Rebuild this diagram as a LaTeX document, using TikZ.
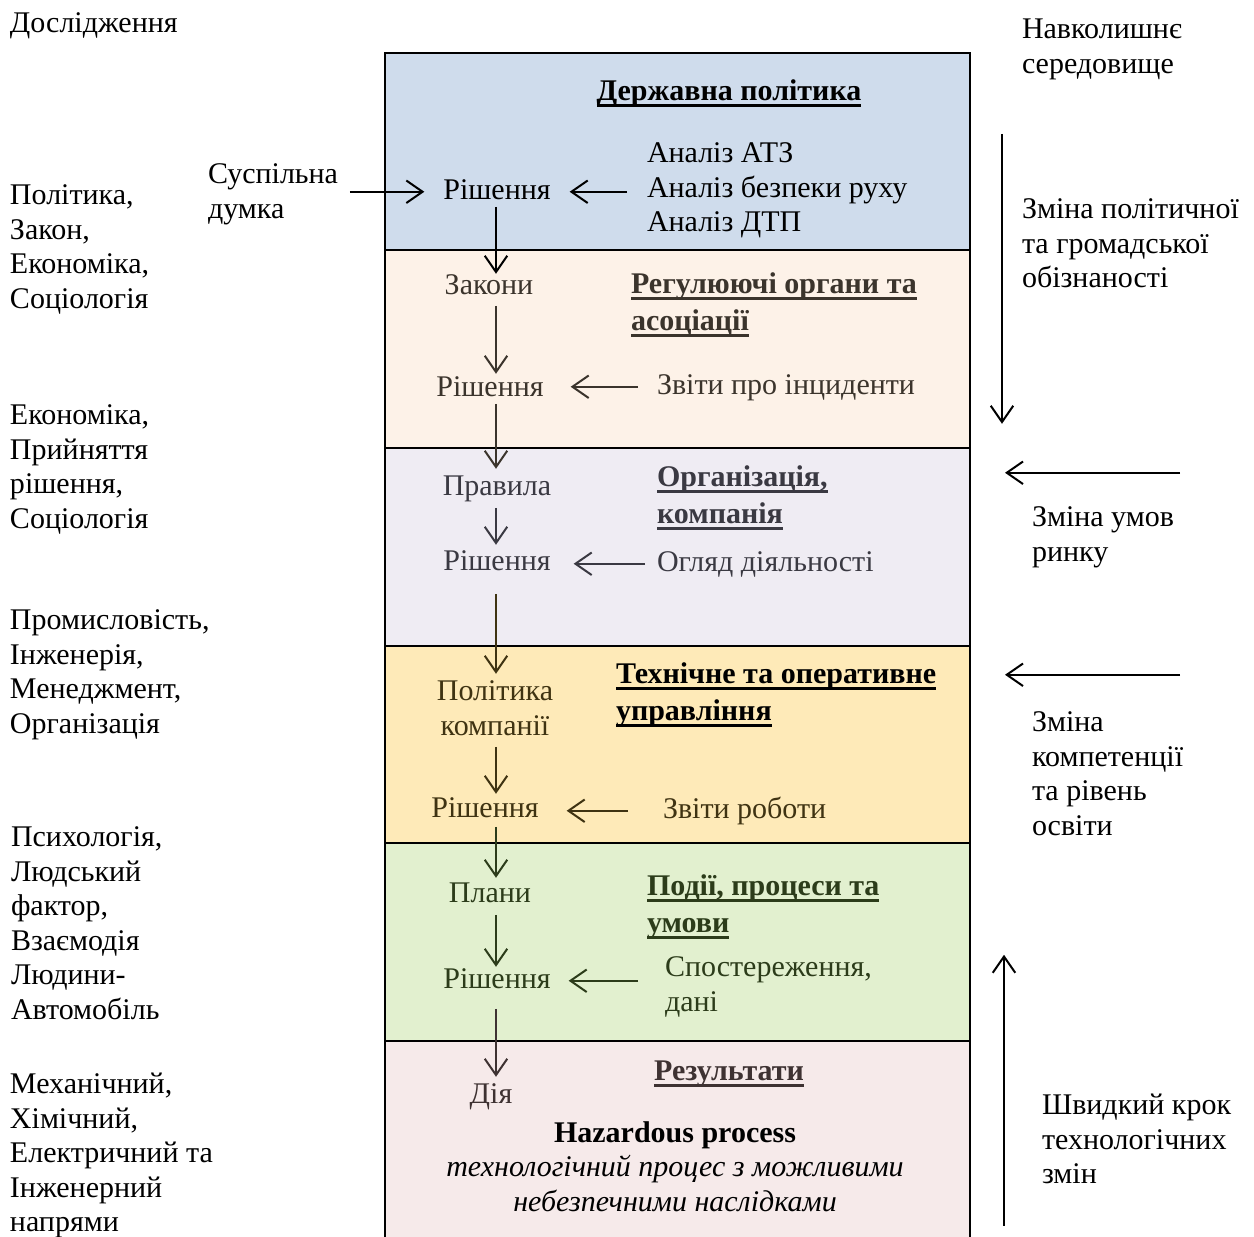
\documentclass[tikz,border=0pt]{standalone}
\usepackage{fontspec}
\setmainfont{Liberation Serif}
\usetikzlibrary{arrows.meta,calc}

% band fills
\definecolor{bandA}{HTML}{CFDCEC}
\definecolor{bandB}{HTML}{FDF2E8}
\definecolor{bandC}{HTML}{EFECF3}
\definecolor{bandD}{HTML}{FEEAB8}
\definecolor{bandE}{HTML}{E2F0CF}
\definecolor{bandF}{HTML}{F6EAEA}
% band inks
\definecolor{inkB}{HTML}{3B342C}
\definecolor{inkC}{HTML}{3A3942}
\definecolor{inkD}{HTML}{3F3312}
\definecolor{inkE}{HTML}{2C3C1A}
\definecolor{inkF}{HTML}{3E3232}

% bold heading with a fixed-depth underline
\newsavebox\ulbox
\newcommand\ultitle[1]{\sbox\ulbox{\bfseries #1}\rlap{\rule[-2.4pt]{\wd\ulbox}{0.95pt}}\usebox\ulbox}
% stacked lines, first baseline on top
\newcommand\stackl[1]{\begin{tabular}[t]{@{}l@{}}#1\end{tabular}}
\newcommand\stackc[1]{\begin{tabular}[t]{@{}c@{}}#1\end{tabular}}

\begin{document}
\begin{tikzpicture}[x=0.4pt,y=-0.4pt,
  every node/.style={inner sep=0pt,outer sep=0pt,yshift=-0.7pt,font=\fontsize{12}{13.8}\selectfont},
  lbl/.style={anchor=base west},
  ctr/.style={anchor=base},
  arr/.style={line width=0.8pt,-{Straight Barb[length=6.5pt,width=9pt]}},
  frame/.style={line width=1pt}]
\useasboundingbox (0,0) rectangle (1254,1236);

% coloured bands of the hierarchy
\fill[bandA] (385,53) rectangle (970,250);
\fill[bandB] (385,250) rectangle (970,448);
\fill[bandC] (385,448) rectangle (970,646);
\fill[bandD] (385,646) rectangle (970,843);
\fill[bandE] (385,843) rectangle (970,1041);
\fill[bandF] (385,1041) rectangle (970,1270);
\draw[frame] (970,1270) -- (970,53) -- (385,53) -- (385,1270);
\foreach \yy in {250,448,646,843,1041} \draw[frame] (385,\yy) -- (970,\yy);

\coordinate (spine) at (496,0);

% left column: research disciplines
\node[lbl] (dosl) at (10,31) {Дослідження};
\node[lbl] (lg1) at (10,203) {\stackl{Політика,\\Закон,\\Економіка,\\Соціологія}};
\node[lbl] (lg2) at (10,423) {\stackl{Економіка,\\Прийняття\\рішення,\\Соціологія}};
\node[lbl] (lg3) at (10,628) {\stackl{Промисловість,\\Інженерія,\\Менеджмент,\\Організація}};
\node[lbl] (lg4) at (11,845) {\stackl{Психологія,\\Людський\\фактор,\\Взаємодія\\Людини-\\Автомобіль}};
\node[lbl] (lg5) at (10,1092) {\stackl{Механічний,\\Хімічний,\\Електричний та\\Інженерний\\напрями}};

% right column: environment
\node[lbl] (env) at (1022,37) {\stackl{Навколишнє\\середовище}};
\node[lbl] (rpol) at (1022,217) {\stackl{Зміна політичної\\та громадської\\обізнаності}};
\node[lbl] (rmkt) at (1032,525) {\stackl{Зміна умов\\ринку}};
\node[lbl] (rcmp) at (1032,730) {\stackl{Зміна\\компетенції\\та рівень\\освіти}};
\node[lbl] (rtec) at (1042,1113) {\stackl{Швидкий крок\\технологічних\\змін}};

\coordinate (pA) at (1002,132); \coordinate (pB) at (1002,422);
\coordinate (mA) at (1180,471); \coordinate (mB) at (1005,471);
\coordinate (cA) at (1180,673); \coordinate (cB) at (1005,673);
\coordinate (tA) at (1004,1224); \coordinate (tB) at (1004,953);
\draw[arr] (pA) -- (pB);
\draw[arr] (mA) -- (mB);
\draw[arr] (cA) -- (cB);
\draw[arr] (tA) -- (tB);

% band 1: state policy
\node[lbl] (sd) at (208,182) {\stackl{Суспільна\\думка}};
\node[ctr] (t1) at (729,99) {\ultitle{Державна політика}};
\node[ctr] (r1) at (497,198) {Рішення};
\node[lbl] (an) at (647,161) {\stackl{Аналіз АТЗ\\Аналіз безпеки руху\\Аналіз ДТП}};
\draw[arr] ($(sd.east |- r1.base)+(12,-8)$) -- ($(r1.base west)+(-19,-8)$);
\draw[arr] ($(an.west |- r1.base)+(-20,-8)$) -- ($(r1.base east)+(19,-8)$);

% band 2: regulators
\begin{scope}[color=inkB]
\node[ctr,text=inkB] (zak) at (489,293) {Закони};
\node[ctr,text=inkB] (r2) at (490,395) {Рішення};
\node[lbl,text=inkB] (zv) at (657,393) {Звіти про інциденти};
\node[lbl,text=inkB] (t2) at (631,292) {\stackl{\ultitle{Регулюючі органи та}\\[0.9pt]\ultitle{асоціації}}};
\draw[arr] ($(zv.west |- r2.base)+(-19,-10)$) -- ($(r2.base east)+(27,-10)$);
\end{scope}

% band 3: organisation
\begin{scope}[color=inkC]
\node[ctr,text=inkC] (prav) at (497,494) {Правила};
\node[ctr,text=inkC] (r3) at (497,569) {Рішення};
\node[lbl,text=inkC] (og) at (657,570) {Огляд діяльності};
\node[lbl,text=inkC] (t3) at (657,485) {\stackl{\ultitle{Організація,}\\[0.9pt]\ultitle{компанія}}};
\draw[arr] ($(og.west |- r3.base)+(-12,-7)$) -- ($(r3.base east)+(23,-7)$);
\end{scope}

% band 4: technical and operational management
\begin{scope}[color=inkD]
\node[ctr,text=inkD] (polk) at (495,699) {\stackc{Політика\\компанії}};
\node[ctr,text=inkD] (r4) at (485,816) {Рішення};
\node[lbl,text=inkD] (zr) at (663,817) {Звіти роботи};
\node[lbl,text=black] (t4) at (616,682) {\stackl{\ultitle{Технічне та оперативне}\\[0.9pt]\ultitle{управління}}};
\draw[arr] ($(zr.west |- r4.base)+(-35,-7)$) -- ($(r4.base east)+(28,-7)$);
\end{scope}

% band 5: events, processes and conditions
\begin{scope}[color=inkE]
\node[ctr,text=inkE] (plan) at (490,901) {Плани};
\node[ctr,text=inkE] (r5) at (497,987) {Рішення};
\node[lbl,text=inkE] (sp) at (665,975) {\stackl{Спостереження,\\дані}};
\node[lbl,text=inkE] (t5) at (647,894) {\stackl{\ultitle{Події, процеси та}\\[0.9pt]\ultitle{умови}}};
\draw[arr] ($(sp.west |- r5.base)+(-27,-8)$) -- ($(r5.base east)+(18,-8)$);
\end{scope}

% band 6: results
\node[ctr,text=inkF] (diya) at (491,1102) {Дія};
\node[ctr,text=inkF] (t6) at (729,1079) {\ultitle{Результати}};
\node[ctr] (haz) at (675,1141) {\bfseries Hazardous process};
\node[ctr] (hazd) at (675,1175) {\stackc{\textit{технологічний процес з можливими}\\\textit{небезпечними наслідками}}};

% decision chain down the spine
\draw[arr] ($(spine |- r1.base)+(0,7)$) -- ($(spine |- zak.base)+(0,-21)$);
\draw[arr,inkB] ($(spine |- zak.base)+(0,11)$) -- ($(spine |- r2.base)+(0,-23)$);
\draw[arr,inkB] ($(spine |- r2.base)+(0,7)$) -- ($(spine |- prav.base)+(0,-27)$);
\draw[arr,inkC] ($(spine |- prav.base)+(0,12)$) -- ($(spine |- r3.base)+(0,-26)$);
\draw[arr,inkD] ($(spine |- r3.base)+(0,23)$) -- ($(spine |- polk.base)+(0,-27)$);
\draw[arr,inkD] ($(spine |- polk.base)+(0,46)$) -- ($(spine |- r4.base)+(0,-24)$);
\draw[arr,inkE] ($(spine |- r4.base)+(0,9)$) -- ($(spine |- plan.base)+(0,-25)$);
\draw[arr,inkE] ($(spine |- plan.base)+(0,12)$) -- ($(spine |- r5.base)+(0,-22)$);
\draw[arr,inkF] ($(spine |- r5.base)+(0,20)$) -- ($(spine |- diya.base)+(0,-27)$);
\end{tikzpicture}
\end{document}
